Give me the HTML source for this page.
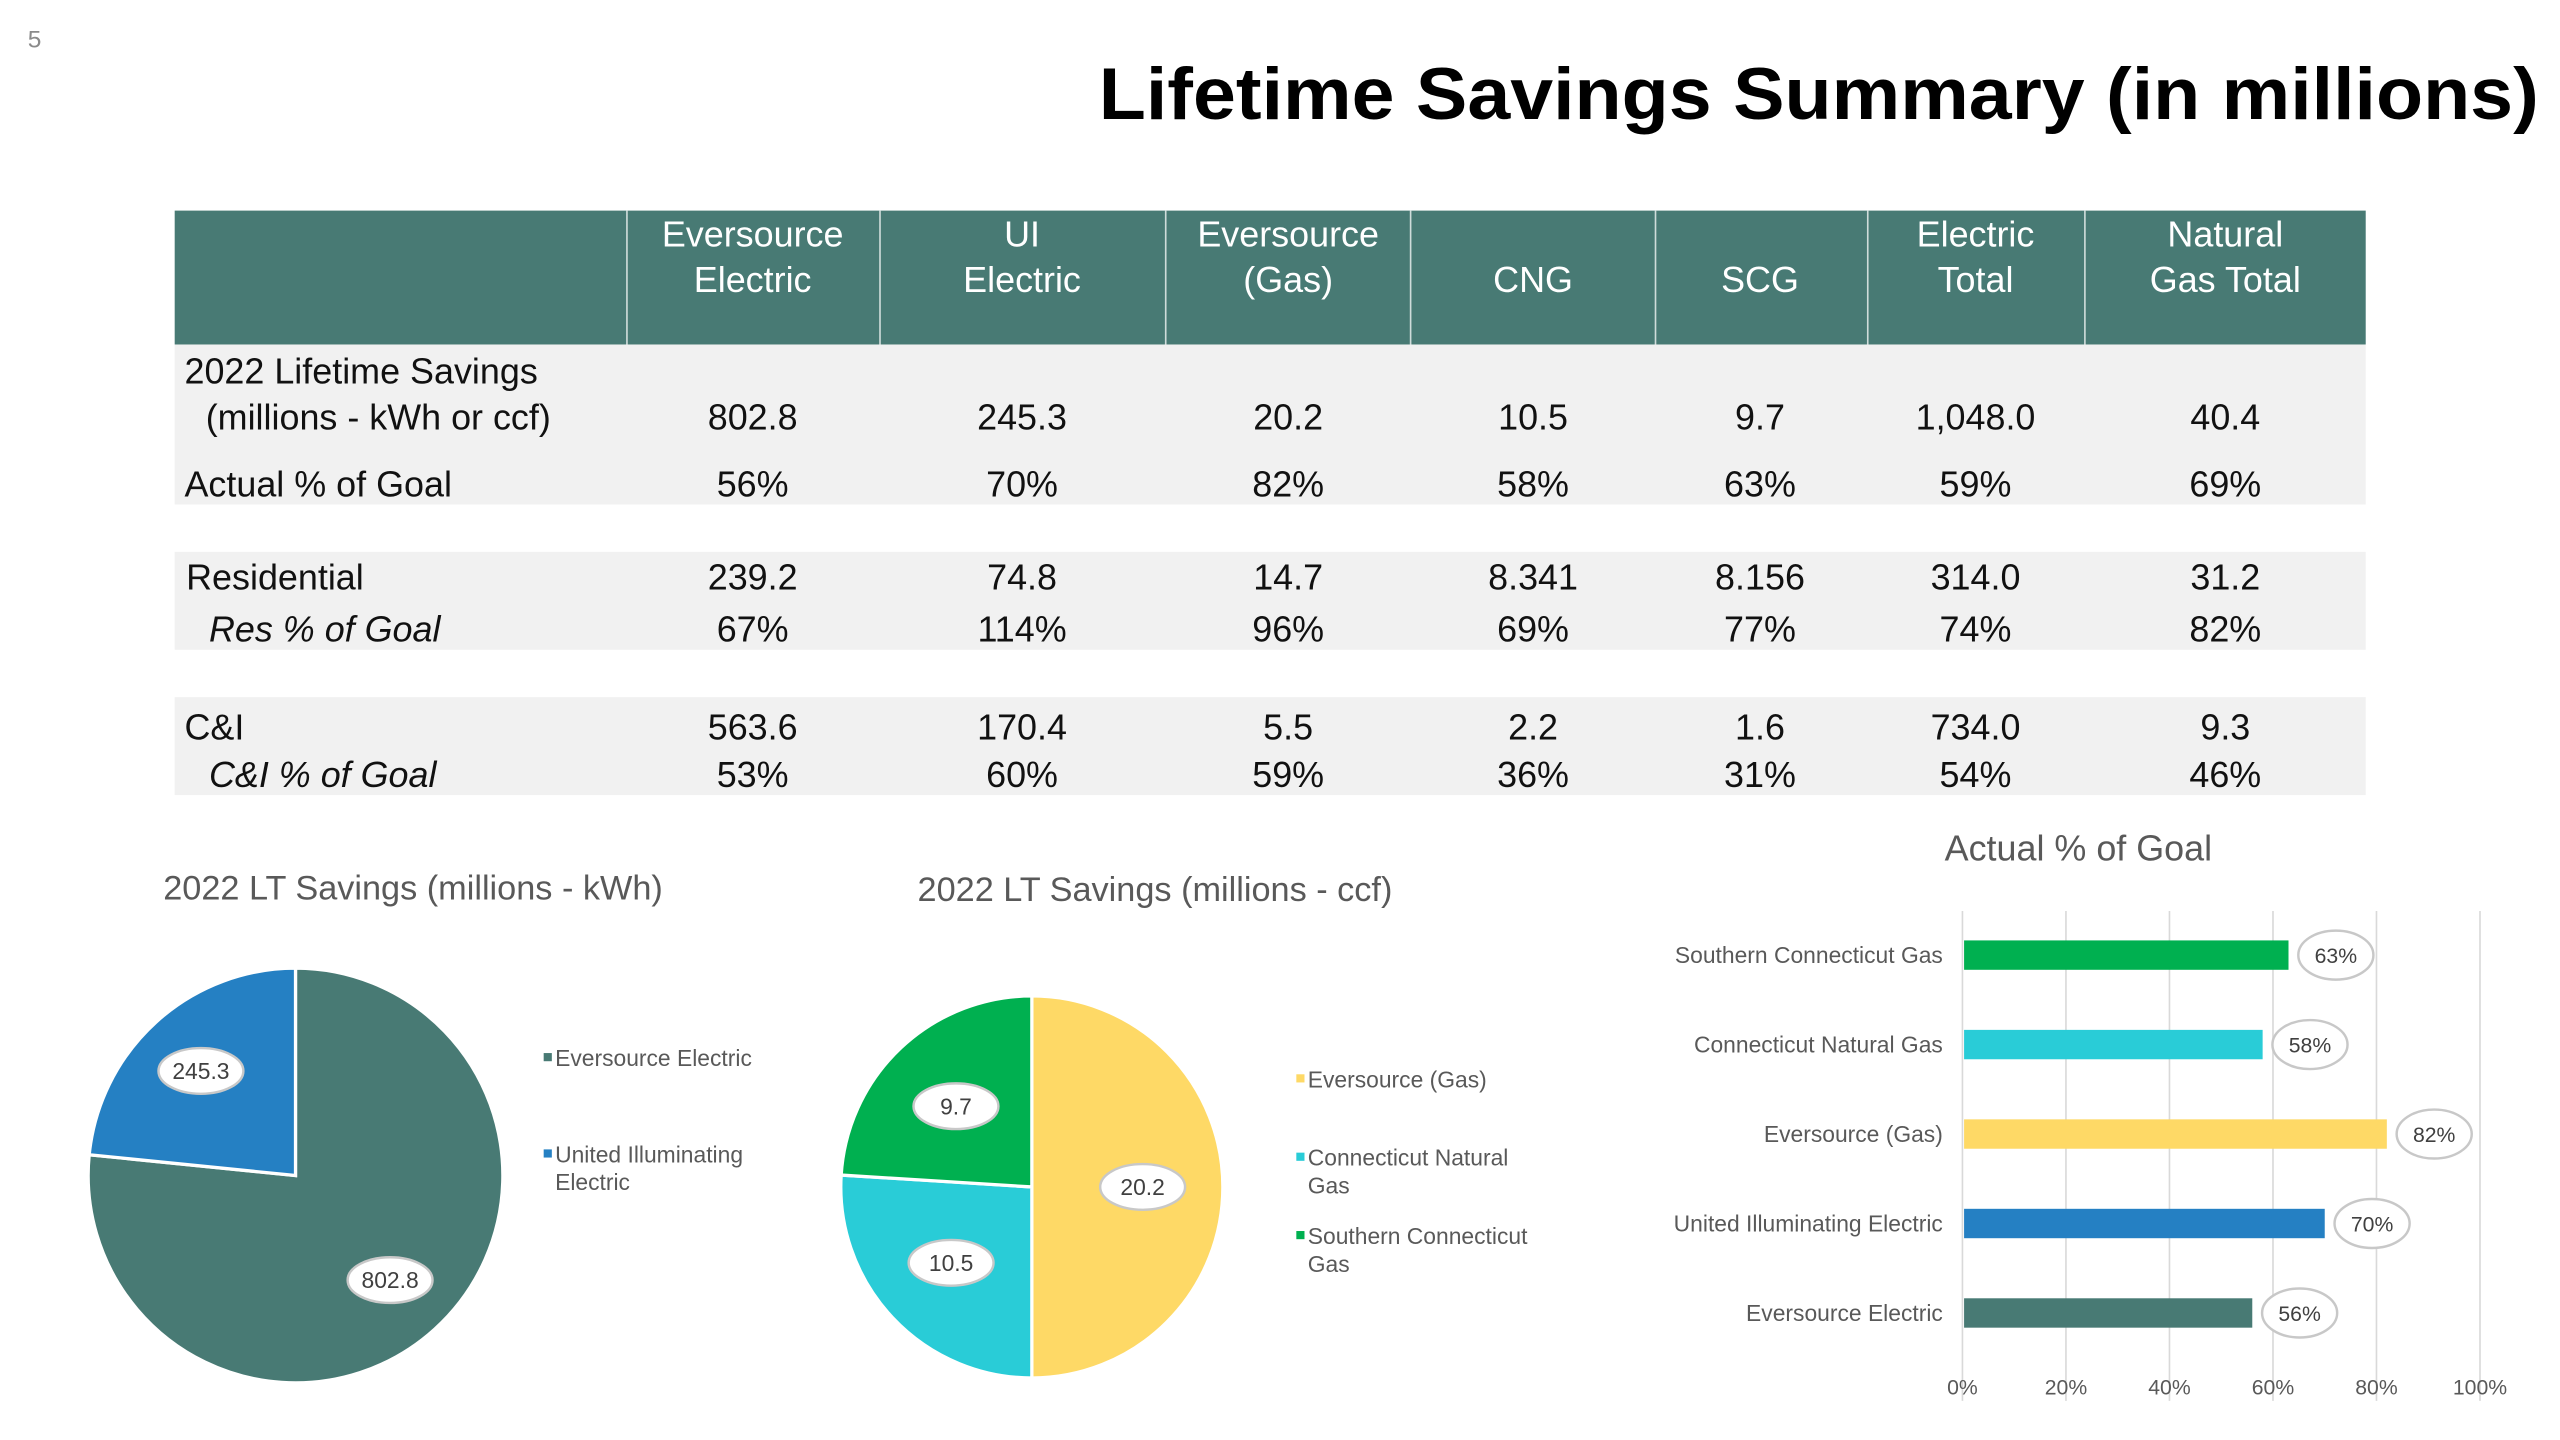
<!DOCTYPE html>
<html><head><meta charset="utf-8"><style>
html,body{margin:0;padding:0;background:#fff;}
svg{display:block;}
text{font-family:"Liberation Sans",sans-serif;}
</style></head><body>
<svg id="s" width="2560" height="1440" viewBox="0 0 1568 882" xmlns="http://www.w3.org/2000/svg">
<text x="17" y="29" font-size="15" fill="#8a8a8a">5</text>
<text x="1555" y="73" text-anchor="end" font-size="45" font-weight="bold" fill="#000" textLength="882" lengthAdjust="spacingAndGlyphs">Lifetime Savings Summary (in millions)</text>
<g id="table"></g>
<g id="pie1"></g>
<g id="pie2"></g>
<g id="bars"></g>
</svg>
<script>
const NS="http://www.w3.org/2000/svg";
// ---- data ----
const tableHeaders=[["Eversource","Electric"],["UI","Electric"],["Eversource","(Gas)"],["CNG"],["SCG"],["Electric","Total"],["Natural","Gas Total"]];
const rowLifetime=["802.8","245.3","20.2","10.5","9.7","1,048.0","40.4"];
const rowActual=["56%","70%","82%","58%","63%","59%","69%"];
const rowRes=["239.2","74.8","14.7","8.341","8.156","314.0","31.2"];
const rowResPct=["67%","114%","96%","69%","77%","74%","82%"];
const rowCI=["563.6","170.4","5.5","2.2","1.6","734.0","9.3"];
const rowCIPct=["53%","60%","59%","36%","31%","54%","46%"];
const pie1Labels=["Eversource Electric","United Illuminating Electric"];
const pie1Values=[802.8,245.3];
const pie2Labels=["Eversource (Gas)","Connecticut Natural Gas","Southern Connecticut Gas"];
const pie2Values=[20.2,10.5,9.7];
const barCategories=["Southern Connecticut Gas","Connecticut Natural Gas","Eversource (Gas)","United Illuminating Electric","Eversource Electric"];
const barValues=[63,58,82,70,56];
const barTicks=[0,20,40,60,80,100];

function el(parent,tag,attrs,text){const e=document.createElementNS(NS,tag);for(const k in attrs)e.setAttribute(k,attrs[k]);if(text!==undefined)e.textContent=text;parent.appendChild(e);return e;}

// ---- table ----
const T=document.getElementById('table');
const colCenters=[461,626,789,939,1078,1210,1363];
const dividers=[384,539,714,864,1014,1144,1277];
let e;
e=el(T,'rect',{x:107,y:129,width:1342,height:82,fill:'#487A74'});


dividers.forEach(x=>el(T,'line',{x1:x,y1:129,x2:x,y2:211,stroke:'#cfdcda','stroke-width':1}));
[[211,98],[338,60],[427,60]].forEach(b=>{e=el(T,'rect',{x:107,y:b[0],width:1342,height:b[1],fill:'#F1F1F1'});

});
tableHeaders.forEach((h,i)=>{
  const ys=h.length===2?[151,179]:[179];
  h.forEach((line,j)=>{e=el(T,'text',{x:colCenters[i],y:ys[j],'text-anchor':'middle','font-size':22,fill:'#fff'},line);
  
  });
});
function rowLabel(x,y,t,it){e=el(T,'text',{x:x,y:y,'font-size':22,fill:'#111','font-style':it?'italic':'normal'},t);

}
rowLabel(113,235,"2022 Lifetime Savings");
rowLabel(126,263,"(millions - kWh or ccf)");
rowLabel(113,304,"Actual % of Goal");
rowLabel(114,361,"Residential");
rowLabel(128,393,"Res % of Goal",true);
rowLabel(113,453,"C&I");
rowLabel(128,482,"C&I % of Goal",true);
[[rowLifetime,263],[rowActual,304],[rowRes,361],[rowResPct,393],[rowCI,453],[rowCIPct,482]].forEach(r=>{
  r[0].forEach((v,i)=>{e=el(T,'text',{x:colCenters[i],y:r[1],'text-anchor':'middle','font-size':22,fill:'#111'},v);
  
  });
});

// ---- pies ----
function pie(g,title,tx,ty,cx,cy,r,labels,values,colors,labelPos,legX,legY){
  e=el(g,'text',{x:tx,y:ty,'font-size':21,fill:'#595959'},title);
  
  
  const tot=values.reduce((a,b)=>a+b,0);let a0=0;
  values.forEach((v,i)=>{
    const a1=a0+v/tot*2*Math.PI;
    const x0=cx+r*Math.sin(a0),y0=cy-r*Math.cos(a0),x1=cx+r*Math.sin(a1),y1=cy-r*Math.cos(a1);
    const large=(a1-a0)>Math.PI?1:0;
    e=el(g,'path',{d:`M${cx},${cy}L${x0},${y0}A${r},${r} 0 ${large} 1 ${x1},${y1}Z`,fill:colors[i],stroke:'#fff','stroke-width':2});
    
    
    const mid=(a0+a1)/2,lr=r*labelPos;
    const lx=cx+lr*Math.sin(mid),ly=cy-lr*Math.cos(mid);
    e=el(g,'ellipse',{cx:lx,cy:ly,rx:26,ry:14,fill:'#fff',stroke:'#c8c8c8','stroke-width':1.5});
    
    
    e=el(g,'text',{x:lx,y:ly+5,'text-anchor':'middle','font-size':14,fill:'#404040'},String(v));
    
    
    a0=a1;
  });
  labels.forEach((lab,i)=>{
    let lines=[];
    if(lab.length>20){const cut=lab.lastIndexOf(' ');lines=[lab.slice(0,cut),lab.slice(cut+1)];}else lines=[lab];
    const y=legY[i];
    e=el(g,'rect',{x:legX-7,y:y-8,width:5,height:5,fill:colors[i]});
    
    
    lines.forEach((ln,j)=>{e=el(g,'text',{x:legX,y:y+j*17,'font-size':14,fill:'#595959'},ln);
    
    });
  });
}
pie(document.getElementById('pie1'),"2022 LT Savings (millions - kWh)",100,551,181,720,127,pie1Labels,pie1Values,['#487A74','#2580C3'],0.68,340,[653,712]);
pie(document.getElementById('pie2'),"2022 LT Savings (millions - ccf)",562,552,632,727,117,pie2Labels,pie2Values,['#FED966','#29CCD7','#00B050'],0.58,801,[666,714,762]);

// ---- bar chart ----
const B=document.getElementById('bars');
const x0=1202,x1=1519,yTop=558,yBot=858;
const xs=v=>x0+(v/100)*(x1-x0);
const rowY=i=>585+i*54.8;
e=el(B,'text',{x:1273,y:527,'text-anchor':'middle','font-size':22,fill:'#595959'},"Actual % of Goal");


barTicks.forEach(t=>{
  el(B,'line',{x1:xs(t),y1:yTop,x2:xs(t),y2:yBot,stroke:'#d9d9d9','stroke-width':1});
  e=el(B,'text',{x:xs(t),y:854,'text-anchor':'middle','font-size':13,fill:'#595959'},t+'%');
  
  
});
const barColors=['#00B050','#29CCD7','#FED966','#2580C3','#487A74'];
barCategories.forEach((c,i)=>{
  const y=rowY(i);
  e=el(B,'text',{x:1190,y:y+5,'text-anchor':'end','font-size':14,fill:'#595959'},c);
  
  
  e=el(B,'rect',{x:x0+1,y:y-9,width:xs(barValues[i])-x0-1,height:18,fill:barColors[i]});
  
  
  const bx=xs(barValues[i])+29;
  e=el(B,'ellipse',{cx:bx,cy:y,rx:23,ry:15,fill:'#fff',stroke:'#c8c8c8','stroke-width':1.5});
  
  
  e=el(B,'text',{x:bx,y:y+5,'text-anchor':'middle','font-size':13,fill:'#404040'},barValues[i]+'%');
  
  
});
</script>
</body></html>
